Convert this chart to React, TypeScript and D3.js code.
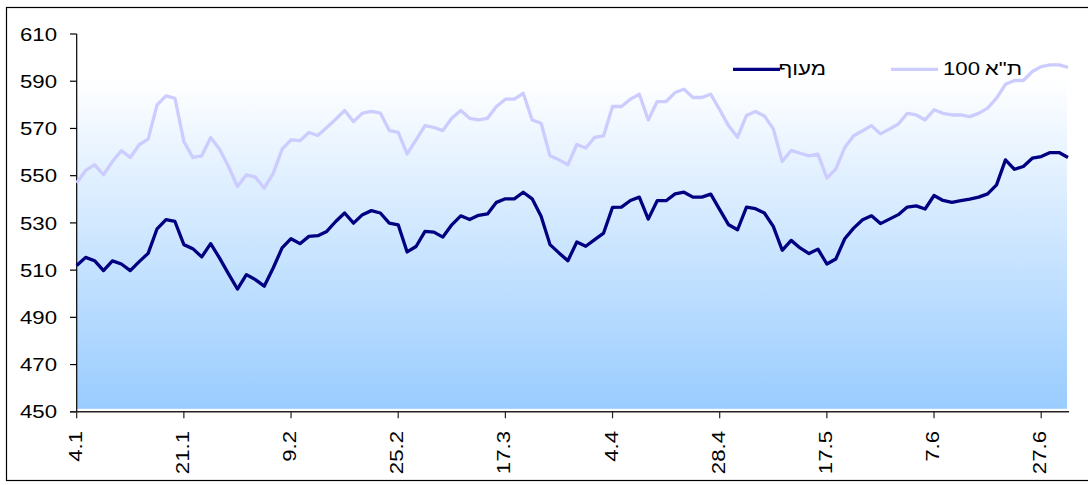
import React from "react";
import * as d3 from "d3";

// Trading-day series, Jan–Jun
const maof = [
  512.0, 515.4, 514.0, 509.8, 513.9, 512.6, 509.8, 513.6, 517.1, 527.5,
  531.4, 530.6, 520.8, 519.1, 515.6, 521.2, 515.1, 508.4, 502.0, 508.1,
  506.0, 503.2, 510.9, 519.4, 523.3, 521.2, 524.3, 524.6, 526.4, 530.6,
  534.2, 529.9, 533.5, 535.2, 534.2, 529.9, 529.2, 517.7, 520.0, 526.4,
  526.1, 524.0, 529.2, 533.0, 531.4, 533.2, 533.8, 538.7, 540.2, 540.2,
  543.0, 540.2, 532.8, 520.8, 517.3, 514.0, 521.9, 520.1, 522.9, 525.7,
  536.6, 536.7, 539.5, 540.9, 531.6, 539.4, 539.4, 542.3, 543.0, 540.9,
  540.9, 542.2, 535.6, 529.2, 527.1, 536.7, 536.0, 534.2, 528.5, 518.4,
  522.6, 519.4, 517.0, 518.9, 512.6, 514.7, 523.3, 527.8, 531.3, 533.0,
  529.7, 531.6, 533.5, 536.7, 537.2, 535.9, 541.6, 539.5, 538.7, 539.4,
  540.1, 540.9, 542.3, 546.1, 556.7, 552.7, 553.9, 557.4, 558.1, 559.8,
  559.8, 557.7,
];

const ta100 = [
  546.9, 552.2, 554.6, 550.4, 556.0, 560.6, 557.7, 563.1, 565.5, 580.0,
  583.8, 582.8, 564.5, 557.7, 558.4, 566.2, 561.2, 553.9, 545.4, 550.4,
  549.4, 544.7, 551.0, 561.2, 565.2, 564.8, 568.3, 567.0, 570.4, 573.9,
  577.6, 572.9, 576.5, 577.2, 576.5, 569.1, 568.3, 559.2, 565.2, 571.2,
  570.4, 569.1, 574.3, 577.6, 574.3, 573.6, 574.3, 579.3, 582.4, 582.4,
  584.9, 573.6, 572.2, 558.4, 556.7, 554.6, 563.2, 561.7, 566.2, 566.9,
  579.3, 579.3, 582.4, 584.5, 573.6, 581.4, 581.4, 585.2, 586.6, 583.1,
  583.1, 584.5, 577.9, 571.1, 566.3, 575.5, 577.2, 575.3, 569.8, 556.0,
  560.7, 559.5, 558.4, 559.1, 549.0, 552.8, 561.9, 566.9, 569.0, 571.2,
  567.7, 569.7, 571.9, 576.4, 575.7, 573.6, 577.9, 576.4, 575.7, 575.7,
  575.0, 576.4, 578.6, 582.8, 588.7, 590.3, 590.3, 594.1, 596.2, 596.9,
  596.9, 595.9,
];

// Date labels shown every 12 trading days
const dateLabels = ["4.1", "21.1", "9.2", "25.2", "17.3", "4.4", "28.4", "17.5", "7.6", "27.6"];
const LABEL_EVERY = 12;

const yTicks = [450, 470, 490, 510, 530, 550, 570, 590, 610];

// Legend names; the TA index name is drawn as its Hebrew word plus its number
const maofName = "מעוף";
const taWord = 'ת"א';
const taNumber = "100";

const W = 1088;
const H = 485;
const FONT = "'Liberation Sans', Arial, sans-serif";
const FONT_SIZE = 18.5;
const STRETCH = 1.2;

export default function App() {
  const x = d3.scaleLinear().domain([0, maof.length - 1]).range([76.7, 1068]);
  const y = d3.scaleLinear().domain([450, 610]).range([411.8, 34]);

  const line = d3
    .line<number>()
    .x((_, i) => x(i))
    .y((d) => y(d));

  const plotLeft = x(0);
  const plotRight = 1067;
  const plotTop = y(610);
  const axisY = y(450);

  const textProps = {
    fontFamily: FONT,
    fontSize: FONT_SIZE,
    fill: "#000",
  };

  return (
    <svg
      width={W}
      height={H}
      style={{ position: "absolute", left: 0, top: 0, background: "#fff" }}
    >
      <defs>
        <linearGradient id="plotFill" x1="0" y1="0" x2="0" y2="1">
          <stop offset="0" stopColor="#ffffff" />
          <stop offset="0.12" stopColor="#ffffff" />
          <stop offset="1" stopColor="#99ccff" />
        </linearGradient>
      </defs>

      {/* outer frame */}
      <rect x={6.5} y={7.5} width={1090} height={473} fill="#fff" stroke="#000" strokeWidth={1.2} />

      {/* plot area */}
      <rect
        x={plotLeft}
        y={plotTop}
        width={plotRight - plotLeft}
        height={axisY - 3 - plotTop}
        fill="url(#plotFill)"
      />

      {/* y axis */}
      <line x1={plotLeft} x2={plotLeft} y1={plotTop} y2={axisY} stroke="#000" strokeWidth={1.2} />
      {yTicks.map((t) => (
        <g key={t}>
          <line x1={70} x2={plotLeft} y1={y(t)} y2={y(t)} stroke="#000" strokeWidth={1.2} />
          <text
            transform={`translate(57,${y(t) + 6.6}) scale(${STRETCH},1)`}
            textAnchor="end"
            {...textProps}
          >
            {t}
          </text>
        </g>
      ))}

      {/* x axis */}
      <line x1={70} x2={1069} y1={axisY} y2={axisY} stroke="#222" strokeWidth={1.4} />
      {dateLabels.map((lab, k) => {
        const xi = x(k * LABEL_EVERY);
        return (
          <g key={lab}>
            <line x1={xi} x2={xi} y1={axisY} y2={axisY + 6.5} stroke="#222" strokeWidth={1.2} />
            <text
              transform={`translate(${xi + 5},431) rotate(-90) scale(${STRETCH},1)`}
              textAnchor="end"
              {...textProps}
            >
              {lab}
            </text>
          </g>
        );
      })}

      {/* series */}
      <path d={line(ta100) ?? ""} fill="none" stroke="#ccccff" strokeWidth={3.3} strokeLinejoin="round" />
      <path d={line(maof) ?? ""} fill="none" stroke="#000080" strokeWidth={3.3} strokeLinejoin="round" />

      {/* legend */}
      <line x1={733} x2={780} y1={69.3} y2={69.3} stroke="#000080" strokeWidth={3.3} />
      <text transform={`translate(826,74.5) scale(${STRETCH},1)`} textAnchor="end" {...textProps}>
        {maofName}
      </text>
      <line x1={891} x2={938} y1={69.3} y2={69.3} stroke="#ccccff" strokeWidth={3.3} />
      <text transform={`translate(943,74.5) scale(${STRETCH},1)`} textAnchor="start" {...textProps}>
        {taNumber}
      </text>
      <text transform={`translate(1022,74.5) scale(${STRETCH},1)`} textAnchor="end" {...textProps}>
        {taWord}
      </text>
    </svg>
  );
}
